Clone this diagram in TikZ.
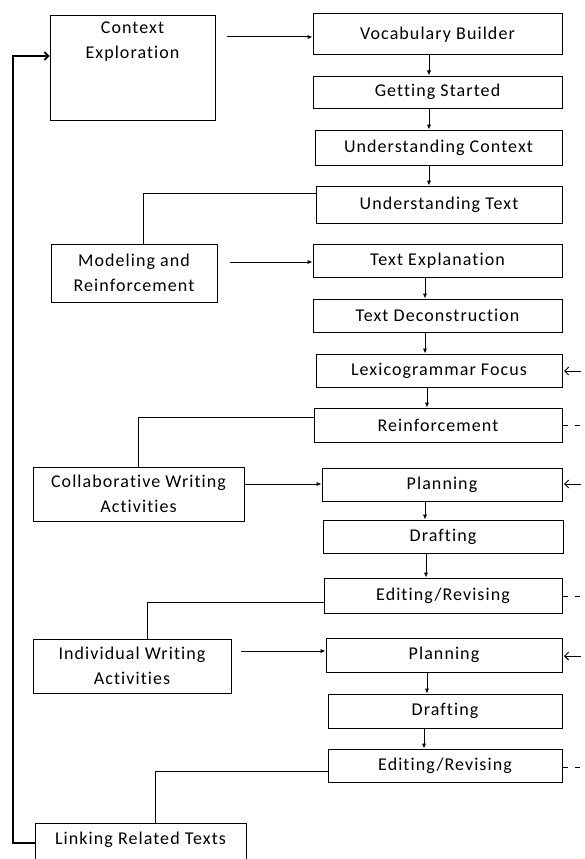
\documentclass[tikz,border=0pt]{standalone}
\usepackage{fontspec}
\setmainfont{Carlito}[LetterSpace=6, Ligatures=NoCommon]
\usetikzlibrary{arrows.meta}
\begin{document}
\begin{tikzpicture}[x=1pt,y=-1pt,
  box/.style={draw, line width=1pt, rectangle, inner sep=0pt, align=center, font=\fontsize{18}{25}\selectfont},
  txt/.style={inner sep=0pt, align=center, font=\fontsize{18}{25}\selectfont},
  arr/.style={line width=1pt, -{Latex[length=5pt,width=4.5pt]}},
  link/.style={line width=1pt},
  loopline/.style={line width=1.6pt, -{Straight Barb[length=4pt,width=8pt]}},
  fb/.style={line width=1pt, dash pattern=on 5pt off 7pt},
  back/.style={line width=1pt, {Straight Barb[length=4pt,width=8pt]}-}]
\useasboundingbox (0,0) rectangle (584,859);
\clip (0,0) rectangle (584,859);
% left column
\node[box, minimum width=165pt, minimum height=104pt] (ce) at (132.5,68) {};
\node[txt, anchor=north] (cet) at (132.5,22) {Context\\Exploration};
\node[box, minimum width=166pt, minimum height=58pt] (mr) at (134,273) {Modeling and\\Reinforcement};
\node[box, minimum width=211pt, minimum height=54pt] (cwa) at (138.5,494) {Collaborative Writing\\Activities};
\node[box, minimum width=198pt, minimum height=54pt] (iwa) at (132,666) {Individual Writing\\Activities};
\node[box, minimum width=211pt, minimum height=50pt] (lrt) at (140.5,848) {};
\node[txt] (lrtt) at (140.5,840) {Linking Related Texts};
% right column
\node[box, minimum width=249pt, minimum height=41pt] (vb) at (437.5,34.5) {Vocabulary Builder};
\node[box, minimum width=249pt, minimum height=32pt] (gs) at (437.5,92) {Getting Started};
\node[box, minimum width=247pt, minimum height=35pt] (uc) at (438.5,147.5) {Understanding Context};
\node[box, minimum width=246pt, minimum height=37pt] (ut) at (439,204.5) {Understanding Text};
\node[box, minimum width=249pt, minimum height=33pt] (te) at (437.5,260.5) {Text Explanation};
\node[box, minimum width=249pt, minimum height=33pt] (td) at (437.5,315.5) {Text Deconstruction};
\node[box, minimum width=246pt, minimum height=33pt] (lf) at (439,370.5) {Lexicogrammar Focus};
\node[box, minimum width=248pt, minimum height=34pt] (re) at (438,425) {Reinforcement};
\node[box, minimum width=240pt, minimum height=33pt] (p1) at (442,484.5) {Planning};
\node[box, minimum width=240pt, minimum height=33pt] (d1) at (443,536.5) {Drafting};
\node[box, minimum width=238pt, minimum height=35pt] (e1) at (443,595.5) {Editing/Revising};
\node[box, minimum width=236pt, minimum height=34pt] (p2) at (444,655) {Planning};
\node[box, minimum width=234pt, minimum height=34pt] (d2) at (445,711) {Drafting};
\node[box, minimum width=234pt, minimum height=33pt] (e2) at (445,765.5) {Editing/Revising};
% helper coordinates
\coordinate (ceout) at (227,37);
\coordinate (mrout) at (230,262);
\coordinate (cwaout) at (244,484);
\coordinate (iwaout) at (241,651);
\coordinate (x428) at (429,0);
\coordinate (x425) at (425,0);
\coordinate (x427) at (427,0);
\coordinate (x426) at (426,0);
\coordinate (x424) at (424,0);
\coordinate (edge) at (584,0);
\coordinate (tipx) at (581,0);
% horizontal arrows
\draw[arr] (ceout) -- (ceout -| vb.west);
\draw[arr] (mrout) -- (mrout -| te.west);
\draw[arr] (cwaout) -- (cwaout -| p1.west);
\draw[arr] (iwaout) -- (iwaout -| p2.west);
% vertical arrows
\draw[arr] (vb.south -| x428) -- (gs.north -| x428);
\draw[arr] (gs.south -| x428) -- (uc.north -| x428);
\draw[arr] (uc.south -| x428) -- (ut.north -| x428);
\draw[arr] (te.south -| x425) -- (td.north -| x425);
\draw[arr] (td.south -| x425) -- (lf.north -| x425);
\draw[arr] (lf.south -| x427) -- (re.north -| x427);
\draw[arr] (p1.south -| x425) -- (d1.north -| x425);
\draw[arr] (d1.south -| x426) -- (e1.north -| x426);
\draw[arr] (p2.south -| x427) -- (d2.north -| x427);
\draw[arr] (d2.south -| x424) -- (e2.north -| x424);
% elbow links
\coordinate (l1) at (143,193);
\coordinate (l2) at (138,417);
\coordinate (l3) at (147,602);
\coordinate (l4) at (155,771);
\draw[link] (l1 -| ut.west) -- (l1) -- (l1 |- mr.north);
\draw[link] (l2 -| re.west) -- (l2) -- (l2 |- cwa.north);
\draw[link] (l3 -| e1.west) -- (l3) -- (l3 |- iwa.north);
\draw[link] (l4 -| e2.west) -- (l4) -- (l4 |- lrt.north);
% loop back
\coordinate (lp1) at (13,843);
\coordinate (lp2) at (13,56);
\draw[loopline] (lp1 -| lrt.west) -- (lp1) -- (lp2) -- (lp2 -| ce.west);
% right side feedback
\coordinate (r1) at (0,371);
\coordinate (r2) at (0,484);
\coordinate (r3) at (0,656);
\draw[back] ([xshift=1.5pt]r1 -| lf.east) -- (r1 -| tipx);
\draw[back] ([xshift=1.5pt]r2 -| p1.east) -- (r2 -| tipx);
\draw[back] ([xshift=1.5pt]r3 -| p2.east) -- (r3 -| tipx);
\draw[fb] (re.east) -- (re.east -| edge);
\coordinate (f2) at (0,596);
\coordinate (f3) at (0,767);
\draw[fb] (f2 -| e1.east) -- (f2 -| edge);
\draw[fb] (f3 -| e2.east) -- (f3 -| edge);
\end{tikzpicture}
\end{document}
